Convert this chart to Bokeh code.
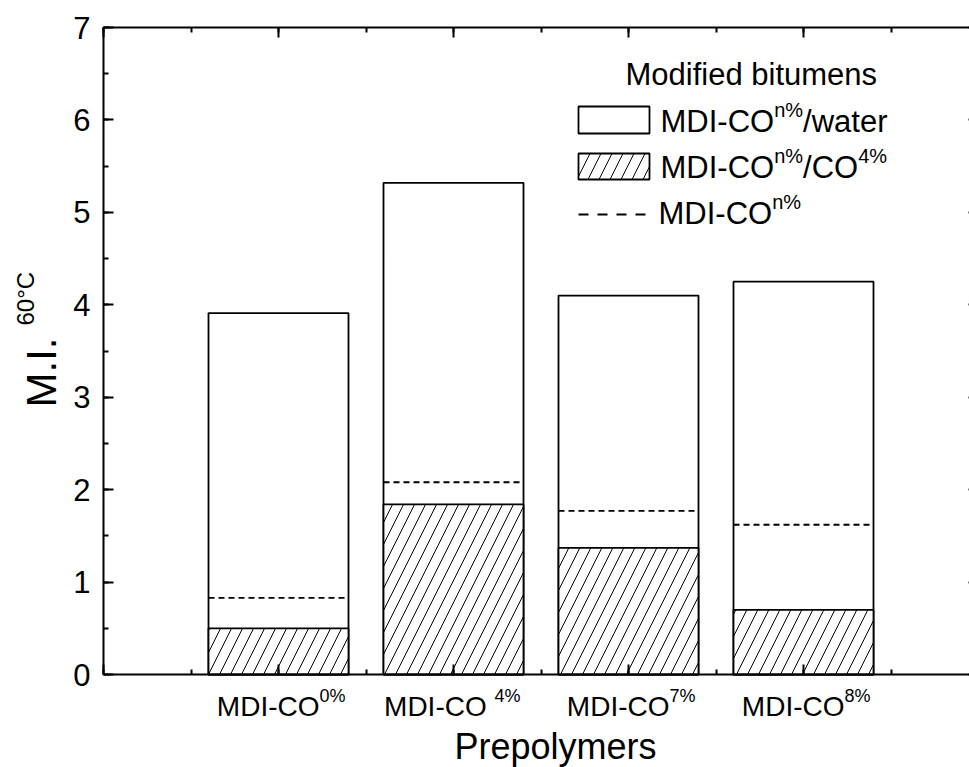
import numpy as np
from bokeh.plotting import figure
from bokeh.models import Range1d, LinearAxis, SingleIntervalTicker, Label
from bokeh.embed import file_html
from bokeh.resources import INLINE

# Prepolymer categories (x positions 1..4) and tick label parts
positions = [1, 2, 3, 4]
tick_main = ["MDI-CO", "MDI-CO\u00a0", "MDI-CO", "MDI-CO"]
tick_sup = ["0%", "4%", "7%", "8%"]

# M.I. at 60 degC for the modified bitumens
water = [3.91, 5.32, 4.10, 4.25]      # MDI-CO n% / water
co4 = [0.50, 1.84, 1.37, 0.70]        # MDI-CO n% / CO 4%
neat = [0.83, 2.08, 1.77, 1.62]       # MDI-CO n%

FONT = "Liberation Sans"
W, H = 969, 767
# pixel placement of the axes box (its right side lies just past the page edge)
FL, FR, FT, FB = 103, 978, 27, 674
XA, XB = 0.0, 5.0      # x extent of the axes box
YA, YB = 0.0, 7.0      # y extent of the axes box
BAR_W = 0.8
BASE_K = 0.33          # alphabetic-baseline correction, in em
HATCH = 22

PXU_X = (FR - FL) / (XB - XA)
PXU_Y = (FB - FT) / (YB - YA)

# advance widths (1/1000 em) for an Arial-metric font
AFM = {"M": 833, "D": 722, "I": 278, "-": 333, "C": 722, "O": 778, "/": 278,
       "w": 722, "a": 556, "t": 278, "e": 556, "r": 333, "n": 556, "%": 889,
       " ": 278, "\u00a0": 278, "0": 556, "4": 556, "7": 556, "8": 556}


def tw(s, size):
    return sum(AFM[c] for c in s) / 1000.0 * size


def dx(px):
    return XA + (px - FL) / PXU_X


def dy(py):
    return YA + (FB - py) / PXU_Y


# the plotting frame spans the whole canvas; axes sit at fixed locations
p = figure(width=W, height=H,
           x_range=Range1d(dx(0), dx(W)), y_range=Range1d(dy(H), dy(0)),
           output_backend="svg", toolbar_location=None,
           x_axis_type=None, y_axis_type=None,
           min_border_left=0, min_border_right=0,
           min_border_top=0, min_border_bottom=0)
p.outline_line_color = None
p.background_fill_color = "white"
p.border_fill_color = "white"


def make_axis(loc, bounds, labels=False):
    ax = LinearAxis(fixed_location=loc, bounds=bounds)
    ax.ticker = SingleIntervalTicker(interval=1, num_minor_ticks=2)
    ax.axis_line_color = "black"
    ax.axis_line_width = 2
    ax.major_tick_in = 10
    ax.major_tick_out = 0
    ax.minor_tick_in = 5
    ax.minor_tick_out = 0
    ax.major_tick_line_width = 2
    ax.minor_tick_line_width = 2
    ax.major_tick_line_color = "black"
    ax.minor_tick_line_color = "black"
    if labels:
        ax.major_label_text_font = FONT
        ax.major_label_text_font_size = "31px"
        ax.major_label_text_color = "black"
        ax.major_label_standoff = 13
    else:
        ax.major_label_text_font_size = "0px"
        ax.major_label_text_color = None
        ax.major_label_standoff = 0
    return ax


p.add_layout(make_axis(XA, (YA, YB), labels=True), "left")
p.add_layout(make_axis(XB, (YA, YB)), "right")
p.add_layout(make_axis(YA, (XA, XB)), "below")
p.add_layout(make_axis(YB, (XA, XB)), "above")

# stacked bars: water-cured on the back, CO 4% hatched in front
p.vbar(x=positions, top=water, width=BAR_W, fill_color="white",
       line_color="black", line_width=1.8)
p.vbar(x=positions, top=co4, width=BAR_W, fill_color="white",
       line_color="black", line_width=1.8,
       hatch_pattern="/", hatch_color="black", hatch_weight=1,
       hatch_scale=HATCH)

# reference level of the unmodified prepolymer
xs = np.array(positions, dtype=float)
p.segment(x0=xs - BAR_W / 2, x1=xs + BAR_W / 2, y0=neat, y1=neat,
          line_color="black", line_width=1.8, line_dash="6 4")


def add_text(px, py, text, size, align="left", angle=0.0):
    # baseline at (px, py) in canvas pixels
    if angle:
        xo, yo = -BASE_K * size, 0.0
    else:
        xo, yo = 0.0, BASE_K * size
    p.add_layout(Label(x=dx(px), y=dy(py), x_offset=xo, y_offset=yo,
                       text=text, text_font=FONT,
                       text_font_size=f"{size}px", text_color="black",
                       text_align=align, text_baseline="alphabetic",
                       angle=angle))


# category tick labels with superscripts
TS, TSS = 28, 18
for xpos, main, sup in zip(positions, tick_main, tick_sup):
    p.add_layout(Label(x=xpos, y=dy(715), x_offset=41, y_offset=BASE_K * TS,
                       text=main, text_font=FONT, text_font_size=f"{TS}px",
                       text_color="black", text_align="right",
                       text_baseline="alphabetic"))
    p.add_layout(Label(x=xpos, y=dy(701), x_offset=41, y_offset=BASE_K * TSS,
                       text=sup, text_font=FONT, text_font_size=f"{TSS}px",
                       text_color="black", text_align="left",
                       text_baseline="alphabetic"))

# axis titles
add_text(555, 758, "Prepolymers", 36, align="center")
add_text(55, 407, "M.I.", 42, angle=np.pi / 2)
add_text(33, 325, "60\u00b0C", 24, angle=np.pi / 2)

# legend
MS, SS = 31, 20
add_text(625, 84, "Modified bitumens", MS)

p.quad(left=[dx(578)], right=[dx(649)], top=[dy(106)], bottom=[dy(133)],
       fill_color="white", line_color="black", line_width=1.8)
p.quad(left=[dx(578)], right=[dx(649)], top=[dy(153)], bottom=[dy(179)],
       fill_color="white", line_color="black", line_width=1.8,
       hatch_pattern="/", hatch_color="black", hatch_weight=1,
       hatch_scale=HATCH)
p.segment(x0=[dx(578)], x1=[dx(648)], y0=[dy(214)], y1=[dy(214)],
          line_color="black", line_width=2, line_dash="10 9")

lx = 660
for base, tail, tail_sup in [(131, "/water", ""), (177, "/CO", "4%")]:
    add_text(lx, base, "MDI-CO", MS)
    x = lx + tw("MDI-CO", MS)
    add_text(x, base - 14.5, "n%", SS)
    x += tw("n%", SS)
    add_text(x, base, tail, MS)
    if tail_sup:
        x += tw(tail, MS)
        add_text(x, base - 14.5, tail_sup, SS)

add_text(658, 223, "MDI-CO", MS)
add_text(658 + tw("MDI-CO", MS), 223 - 14.5, "n%", SS)

open("out.html", "w").write(file_html(p, INLINE))
